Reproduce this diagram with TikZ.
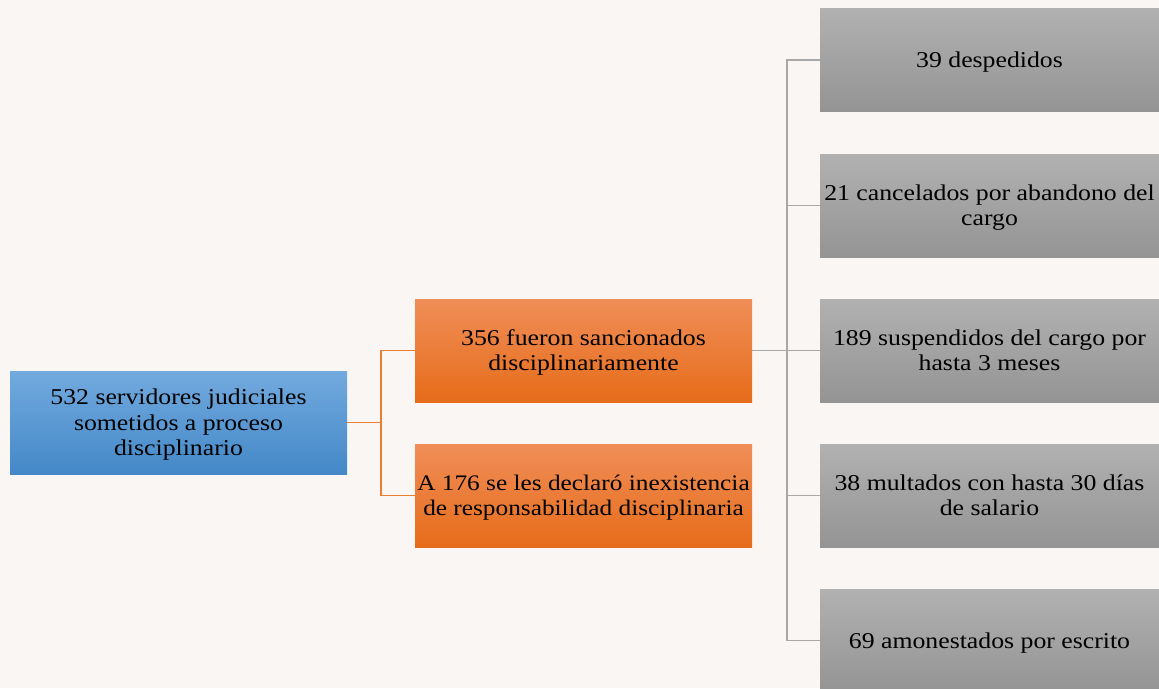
\documentclass[tikz,border=0pt]{standalone}
\usepackage{fontspec}
\setmainfont{Liberation Serif}[FakeStretch=1.14]
\definecolor{bg}{RGB}{249,246,243}
\definecolor{bluetop}{RGB}{114,170,222}
\definecolor{bluebot}{RGB}{68,136,200}
\definecolor{orgtop}{RGB}{240,142,88}
\definecolor{orgbot}{RGB}{230,108,26}
\definecolor{graytop}{RGB}{177,177,177}
\definecolor{graybot}{RGB}{148,148,148}
\definecolor{orgline}{RGB}{237,125,49}
\definecolor{grayline}{RGB}{168,168,168}
\newcommand\lbl[1]{\raisebox{-2.5pt}[\height][\depth]{\begin{tabular}{@{}c@{}}#1\end{tabular}}}
\tikzset{
  box/.style={minimum height=103pt, inner sep=0pt, text=black,
    font=\fontsize{22.6}{25.5}\selectfont},
  bluebox/.style={box, minimum width=337pt, top color=bluetop, bottom color=bluebot},
  orgbox/.style={box, minimum width=337pt, top color=orgtop, bottom color=orgbot},
  graybox/.style={box, minimum width=339pt, top color=graytop, bottom color=graybot},
  oline/.style={draw=orgline, line width=1.1pt},
  gline/.style={draw=grayline, line width=1.3pt},
}
\begin{document}
\begin{tikzpicture}[x=1pt,y=-1pt]
\fill[bg] (0,0) rectangle (1159,688);
\useasboundingbox (0,0) rectangle (1159,688);
\begin{scope}
\clip (0,0) rectangle (1159,688);
\node[bluebox] (root) at (178.5,422.5) {\lbl{532 servidores judiciales\\sometidos a proceso\\disciplinario}};
\node[orgbox] (o1) at (583.5,350.5) {\lbl{356 fueron sancionados\\disciplinariamente}};
\node[orgbox, font=\fontsize{22.2}{25.5}\selectfont] (o2) at (583.5,495.5) {\lbl{A 176 se les declaró inexistencia\\de responsabilidad disciplinaria}};
\node[graybox] (g1) at (989.5,60) {\lbl{39 despedidos}};
\node[graybox] (g2) at (989.5,205.5) {\lbl{21 cancelados por abandono del\\cargo}};
\node[graybox] (g3) at (989.5,350.5) {\lbl{189 suspendidos del cargo por\\hasta 3 meses}};
\node[graybox] (g4) at (989.5,495.5) {\lbl{38 multados con hasta 30 días\\de salario}};
\node[graybox] (g5) at (989.5,640.5) {\lbl{69 amonestados por escrito}};
\coordinate (ob) at (381,0);
\coordinate (gb) at (787,0);
\draw[oline] (root.east) -- (root.east -| ob) |- (o1.west);
\draw[oline] (root.east -| ob) |- (o2.west);
\draw[gline] (o1.east) -- (o1.east -| gb);
\foreach \g in {g1,g2,g3,g4,g5}{
  \draw[gline] (o1.east -| gb) |- (\g.west);
}
\end{scope}
\end{tikzpicture}
\end{document}
